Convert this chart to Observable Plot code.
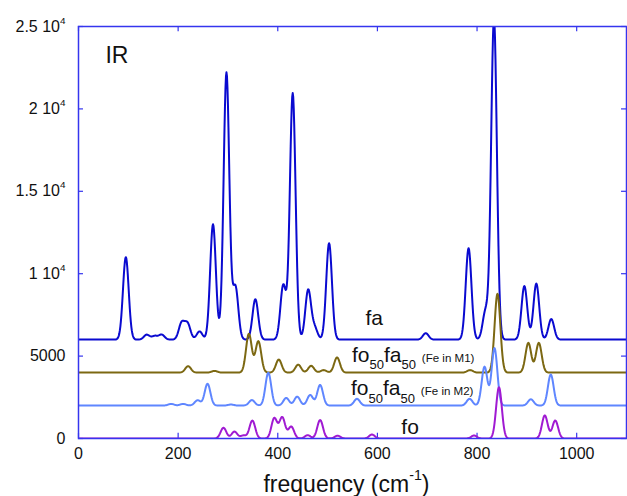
<!DOCTYPE html>
<html>
<head>
<meta charset="utf-8">
<script src="https://cdn.jsdelivr.net/npm/d3@7"></script>
<script src="https://cdn.jsdelivr.net/npm/@observablehq/plot@0.6"></script>
<style>
  html, body { margin: 0; padding: 0; background: #fff; }
  #chart svg { display: block; }
</style>
</head>
<body>
<div id="chart"></div>
<script>
// ---- Data (peak centres in cm^-1, peak heights above baseline) ----
const faOffset = 6000;
const faCentres = [95, 137, 153, 167, 207, 219, 243, 270, 297, 315, 355, 411, 430, 461, 474, 503, 697, 783, 817, 834, 895, 919, 949];
const faHeights = [5000, 300, 220, 300, 1000, 950, 500, 7000, 16200, 3200, 2450, 3300, 14950, 3000, 700, 5850, 390, 5550, 1700, 19500, 3250, 3400, 1250];

const m1Offset = 4000;
const m1Centres = [220, 273, 342, 361, 402, 441, 467, 492, 519, 786, 841, 903, 924];
const m1Heights = [390, 100, 2350, 1900, 790, 480, 410, 150, 920, 150, 4780, 1800, 1800];

const m2Offset = 2000;
const m2Centres = [186, 210, 239, 259, 306, 348, 381, 417, 439, 465, 485, 559, 785, 815, 835, 908, 948];
const m2Heights = [100, 100, 320, 1320, 60, 330, 1990, 460, 540, 640, 1250, 410, 410, 2350, 3480, 380, 1880];

const foOffset = 0;
const foCentres = [291, 313, 331, 349, 393, 409, 427, 460, 485, 520, 589, 794, 844, 936, 957];
const foHeights = [650, 420, 180, 1090, 1230, 1280, 720, 200, 1120, 170, 240, 180, 3110, 1400, 1090];

const peakFWHM = 13.5;           // common band width (cm^-1)
const seriesNames = ["fa", "fo50fa50 M1", "fo50fa50 M2", "fo"];
const seriesColors = ["#0a0ad0", "#7c6812", "#5f86ff", "#a01ad2"];

const xTicks = [0, 200, 400, 600, 800, 1000];
const yTicks = [0, 5000, 10000, 15000, 20000, 25000];
const yTickLabels = ["0", "5000", "1 10^{4}", "1.5 10^{4}", "2 10^{4}", "2.5 10^{4}"];

const labelTexts = ["IR", "fa", "fo_{50}fa_{50} ~{(Fe in M1)}", "fo_{50}fa_{50} ~{(Fe in M2)}", "fo"];
const labelX = [54, 576, 549, 547, 648];
const labelY = [22800, 6860, 4650, 2610, 300];
const labelSize = [23, 21, 21, 21, 21];
const xLabel = "frequency (cm^{-1})";

// ---- Build spectra (stick spectrum with Gaussian band shape) ----
const sigma = peakFWHM / 2.3548;
function spectrum(name, offset, centres, heights) {
  const pts = [];
  for (let x = 0; x <= 1100; x += 1) {
    let y = offset;
    for (let i = 0; i < centres.length; i++) {
      const d = (x - centres[i]) / sigma;
      y += heights[i] * Math.exp(-0.5 * d * d);
    }
    pts.push({series: name, x, y});
  }
  return pts;
}
const spectra = [
  spectrum(seriesNames[0], faOffset, faCentres, faHeights),
  spectrum(seriesNames[1], m1Offset, m1Centres, m1Heights),
  spectrum(seriesNames[2], m2Offset, m2Centres, m2Heights),
  spectrum(seriesNames[3], foOffset, foCentres, foHeights)
];
const labels = labelTexts.map((t, i) => ({t, x: labelX[i], y: labelY[i], s: labelSize[i]}));
const frameBlue = "#3535ee";

const chart = Plot.plot({
  width: 627,
  height: 496,
  marginLeft: 78,
  marginRight: 1,
  marginTop: 26,
  marginBottom: 58,
  style: {fontFamily: "'Liberation Sans', Arial, sans-serif", fontSize: "16px", background: "#fff", color: "#111"},
  x: {domain: [0, 1100], label: null},
  y: {domain: [0, 25000], label: null},
  marks: [
    // inward ticks on all four sides
    Plot.ruleX(xTicks, {x: d => d, y1: 0, y2: 320, stroke: frameBlue, strokeWidth: 1.2}),
    Plot.ruleX(xTicks, {x: d => d, y1: 25000, y2: 24680, stroke: frameBlue, strokeWidth: 1.2}),
    Plot.ruleY(yTicks, {y: d => d, x1: 0, x2: 10, stroke: frameBlue, strokeWidth: 1.2}),
    Plot.ruleY(yTicks, {y: d => d, x1: 1100, x2: 1090, stroke: frameBlue, strokeWidth: 1.2}),
    Plot.axisX(xTicks, {label: null, tickSize: 0, tickPadding: 9, fontSize: 16, tickFormat: d => String(d)}),
    Plot.axisY(yTicks, {label: null, tickSize: 0, tickPadding: 13, fontSize: 16, tickFormat: d => yTickLabels[yTicks.indexOf(d)]}),
    ...spectra.map((s, i) => Plot.line(s, {x: "x", y: "y", stroke: seriesColors[i], strokeWidth: 2, clip: true})),
    Plot.frame({stroke: frameBlue, strokeWidth: 1.5}),
    Plot.text(labels, {x: "x", y: "y", text: "t", fontSize: d => d.s, textAnchor: "start", lineAnchor: "bottom", fill: "#111"}),
    Plot.text([xLabel], {text: d => d, frameAnchor: "bottom", dx: -6, dy: 53, fontSize: 23, lineAnchor: "bottom", fill: "#111"})
  ]
});
document.getElementById("chart").appendChild(chart);

// Render sub/superscript markup as real tspans
function richify(svg) {
  d3.select(svg).selectAll("text").each(function () {
    const el = this;
    const s = el.textContent;
    if (!/[_^~]\{/.test(s)) return;
    const fs = parseFloat(getComputedStyle(el).fontSize) || 16;
    const parts = [];
    const re = /([_^~])\{([^}]*)\}/g;
    let last = 0, m;
    while ((m = re.exec(s))) {
      if (m.index > last) parts.push({k: "", t: s.slice(last, m.index)});
      parts.push({k: m[1], t: m[2]});
      last = re.lastIndex;
    }
    if (last < s.length) parts.push({k: "", t: s.slice(last)});
    while (el.firstChild) el.removeChild(el.firstChild);
    let shift = 0;
    for (const p of parts) {
      let target = 0, size = fs;
      if (p.k === "_") { target = 0.36 * fs; size = 0.62 * fs; }
      if (p.k === "^") { target = -0.5 * fs; size = 0.62 * fs; }
      if (p.k === "~") { target = 0; size = 0.55 * fs; }
      d3.select(el).append("tspan").text(p.t)
        .attr("font-size", size)
        .attr("dy", target - shift);
      shift = target;
    }
  });
}
richify(chart);
</script>
</body>
</html>
